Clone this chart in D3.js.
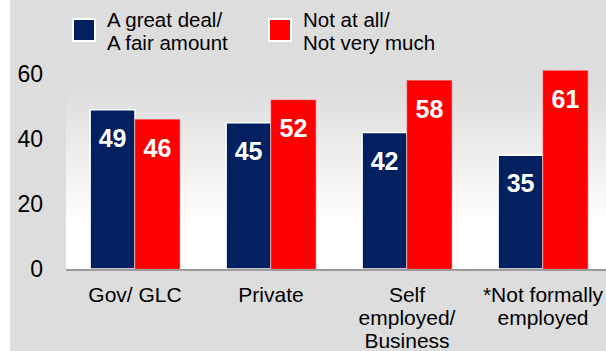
<!DOCTYPE html>
<meta charset="utf-8">
<style>
  body { margin: 0; background: #fff; }
  svg { display: block; font-family: Arial, "Liberation Sans", sans-serif; }
  .tick text { font-size: 23px; fill: #000; }
  .xlab { font-size: 21px; fill: #000; text-anchor: middle; }
  .legend text { font-size: 20.5px; fill: #000; }
  .val { font-size: 25px; font-weight: bold; fill: #fff; text-anchor: middle; }
</style>
<body>
<div id="chart"></div>
<script src="https://cdn.jsdelivr.net/npm/d3@7/dist/d3.min.js"></script>
<script>

var categories = ["Gov/ GLC", "Private", "Self employed/ Business", "*Not formally employed"];
var categoryLines = [["Gov/ GLC"], ["Private"], ["Self", "employed/", "Business"], ["*Not formally", "employed"]];
var seriesNames = ["A great deal/ A fair amount", "Not at all/ Not very much"];
var seriesLines = [["A great deal/", "A fair amount"], ["Not at all/", "Not very much"]];
var greatDeal = [49, 45, 42, 35];
var notAtAll = [46, 52, 58, 61];
var yTicks = [0, 20, 40, 60];

var width = 606,
    height = 351;

var colors = ["#002060", "#ff0000"];

var svg = d3.select("#chart").append("svg")
  .attr("width", width)
  .attr("height", height);

var defs = svg.append("defs");
var grad = defs.append("linearGradient")
  .attr("id", "plotbg")
  .attr("x1", 0).attr("y1", 0).attr("x2", 0).attr("y2", 1);
grad.append("stop").attr("offset", "0%").attr("stop-color", "#dedede");
grad.append("stop").attr("offset", "75%").attr("stop-color", "#ffffff");
grad.append("stop").attr("offset", "100%").attr("stop-color", "#ffffff");

// outer grey panel (white strip at the very left)
svg.append("rect")
  .attr("x", 10).attr("y", 0)
  .attr("width", width - 10).attr("height", height)
  .attr("fill", "#dddddd");

var x0 = d3.scaleBand()
  .domain(categories)
  .range([67, 611])
  .paddingInner(0.34)
  .paddingOuter(0.17);

var x1 = d3.scaleBand()
  .domain([0, 1])
  .range([0, x0.bandwidth()]);

var y = d3.scaleLinear()
  .domain([0, 60])
  .range([269, 74]);

// plot area
svg.append("rect")
  .attr("x", 66).attr("y", 92)
  .attr("width", width - 66).attr("height", y(0) - 92)
  .attr("fill", "url(#plotbg)");

// y axis labels
var yAxis = svg.append("g")
  .attr("transform", "translate(43,0)")
  .call(d3.axisLeft(y).tickValues(yTicks).tickSize(0).tickPadding(0));
yAxis.select(".domain").remove();
yAxis.selectAll(".tick text")
  .attr("font-family", null)
  .attr("font-size", null);

// bars
var groups = svg.selectAll(".group")
  .data(categories)
  .enter().append("g")
  .attr("class", "group")
  .attr("transform", function(d) { return "translate(" + x0(d) + ",0)"; });

groups.each(function(cat, i) {
  var g = d3.select(this);
  var vals = [greatDeal[i], notAtAll[i]];
  vals.forEach(function(v, s) {
    g.append("rect")
      .attr("x", x1(s))
      .attr("y", y(v))
      .attr("width", x1.bandwidth())
      .attr("height", y(0) - y(v))
      .attr("fill", colors[s])
      .attr("stroke", s === 0 ? "#ffffff" : "#ff5050")
      .attr("stroke-width", s === 0 ? 1.5 : 0.6);
    g.append("text")
      .attr("class", "val")
      .attr("x", x1(s) + x1.bandwidth() / 2)
      .attr("y", y(v) + 37)
      .text(v);
  });
});

// baseline
svg.append("line")
  .attr("x1", 66).attr("x2", width)
  .attr("y1", y(0) + 1).attr("y2", y(0) + 1)
  .attr("stroke", "#9a9a9a")
  .attr("stroke-width", 2);

// category labels
categories.forEach(function(c, i) {
  var t = svg.append("text")
    .attr("class", "xlab")
    .attr("x", x0(c) + x0.bandwidth() / 2)
    .attr("y", 302);
  categoryLines[i].forEach(function(line, k) {
    t.append("tspan")
      .attr("x", x0(c) + x0.bandwidth() / 2)
      .attr("dy", k === 0 ? 0 : 23)
      .text(line);
  });
});

// legend
var legendX = [73, 269];
var legend = svg.selectAll(".legend")
  .data(seriesNames)
  .enter().append("g")
  .attr("class", "legend")
  .attr("transform", function(d, i) { return "translate(" + legendX[i] + ",19)"; });

legend.append("rect")
  .attr("width", 22).attr("height", 22)
  .attr("fill", function(d, i) { return colors[i]; })
  .attr("stroke", "#fff")
  .attr("stroke-width", 2);

legend.append("text")
  .attr("x", 34)
  .attr("y", 8)
  .each(function(d, i) {
    var t = d3.select(this);
    seriesLines[i].forEach(function(line, k) {
      t.append("tspan")
        .attr("x", 34)
        .attr("dy", k === 0 ? 0 : 23)
        .text(line);
    });
  });

</script>
</body>
